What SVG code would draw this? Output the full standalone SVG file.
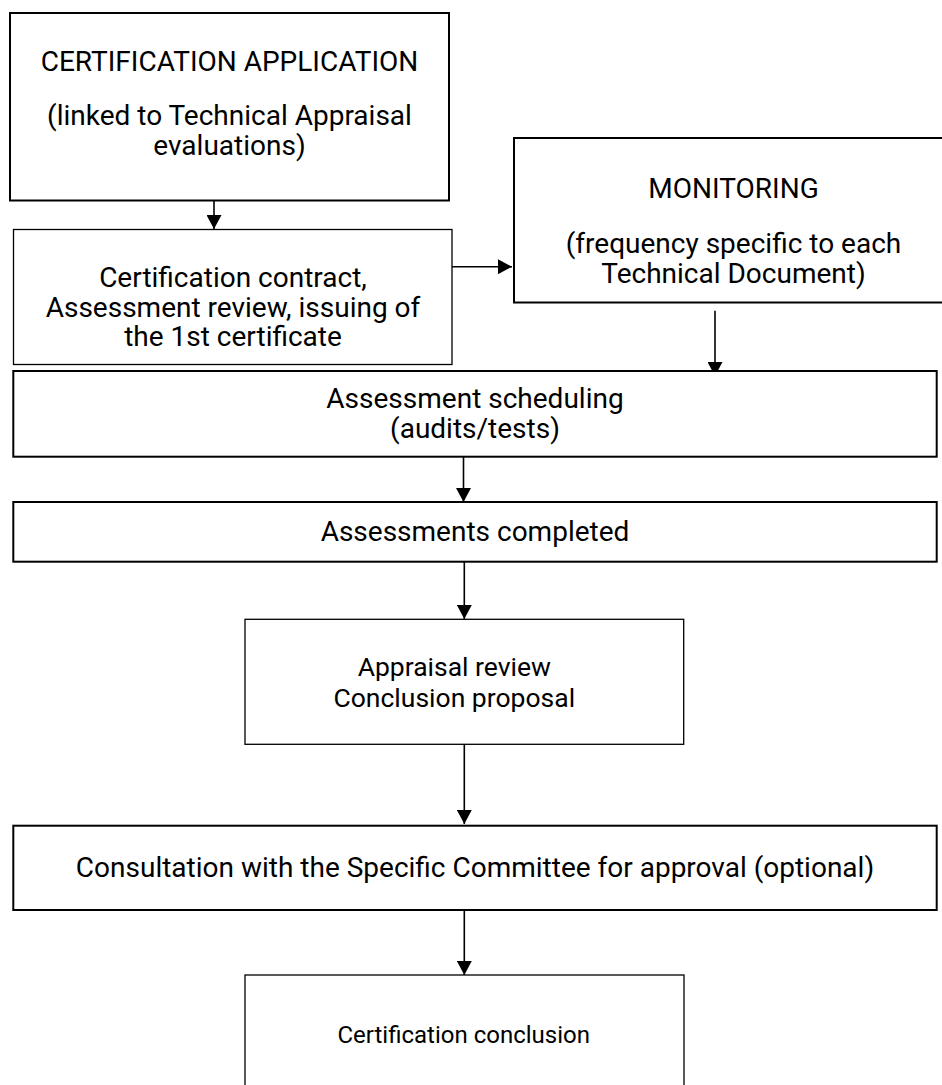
<svg xmlns="http://www.w3.org/2000/svg" width="942" height="1085" viewBox="0 0 942 1085">
<defs>
<marker id="ah" markerUnits="userSpaceOnUse" markerWidth="15" markerHeight="15" viewBox="0 0 15 15" refX="14" refY="7.5" orient="auto">
<path d="M0,0 L14,7.5 L0,15 Z" fill="#000"/>
</marker>
<style>
.box{fill:#fff;stroke:#000;stroke-width:2}
.thin{stroke-width:1.3}
.t{font-family:Roboto,"Liberation Sans",sans-serif;font-size:28px;fill:#000;text-anchor:middle}
.c{stroke:#000;stroke-width:1.6;fill:none;marker-end:url(#ah)}
</style>
</defs>
<rect width="942" height="1085" fill="#fff"/>
<g id="connectors">
<line class="c" x1="214" y1="200" x2="214" y2="229"/>
<line class="c" x1="452" y1="266.7" x2="512" y2="266.7"/>
<line class="c" x1="715" y1="310.7" x2="715" y2="376"/>
<line class="c" x1="463.5" y1="457" x2="463.5" y2="502"/>
<line class="c" x1="464.3" y1="562" x2="464.3" y2="619"/>
<line class="c" x1="464.3" y1="744.3" x2="464.3" y2="824"/>
<line class="c" x1="464.3" y1="910" x2="464.3" y2="975"/>
</g>
<g id="n1">
<rect class="box" x="10" y="13" width="439" height="187.5"/>
<text class="t" x="229.5" y="70.7">CERTIFICATION APPLICATION</text>
<text class="t" x="229.5" y="125">(linked to Technical Appraisal</text>
<text class="t" x="229.5" y="155">evaluations)</text>
</g>
<g id="n2">
<rect class="box thin" x="13.5" y="229.5" width="438.5" height="135" stroke="#333"/>
<text class="t" x="233" y="287">Certification contract,</text>
<text class="t" x="233" y="316.7">Assessment review, issuing of</text>
<text class="t" x="233" y="346">the 1st certificate</text>
</g>
<g id="n3">
<rect class="box" x="514" y="138" width="440" height="164.5"/>
<text class="t" x="733.5" y="198">MONITORING</text>
<text class="t" x="733.5" y="252.7">(frequency specific to each</text>
<text class="t" x="733.5" y="283.3">Technical Document)</text>
</g>
<g id="n4">
<rect class="box" x="13.3" y="371" width="923.4" height="85.7"/>
<text class="t" x="475" y="407.7">Assessment scheduling</text>
<text class="t" x="475" y="438.3">(audits/tests)</text>
</g>
<g id="n5">
<rect class="box" x="13.3" y="502" width="923.4" height="59.7"/>
<text class="t" x="475" y="540.7">Assessments completed</text>
</g>
<g id="n6">
<rect class="box thin" x="245" y="619.3" width="438.7" height="125"/>
<text class="t" x="454.3" y="675.7" style="font-size:26.5px">Appraisal review</text>
<text class="t" x="454.3" y="706.7" style="font-size:26.5px">Conclusion proposal</text>
</g>
<g id="n7">
<rect class="box" x="13.3" y="825.7" width="923.4" height="84.3"/>
<text class="t" x="475" y="876.7">Consultation with the Specific Committee for approval (optional)</text>
</g>
<g id="n8">
<rect class="box thin" x="245" y="975" width="439" height="150"/>
<text class="t" x="463.7" y="1042.7" style="font-size:24px">Certification conclusion</text>
</g>
</svg>
